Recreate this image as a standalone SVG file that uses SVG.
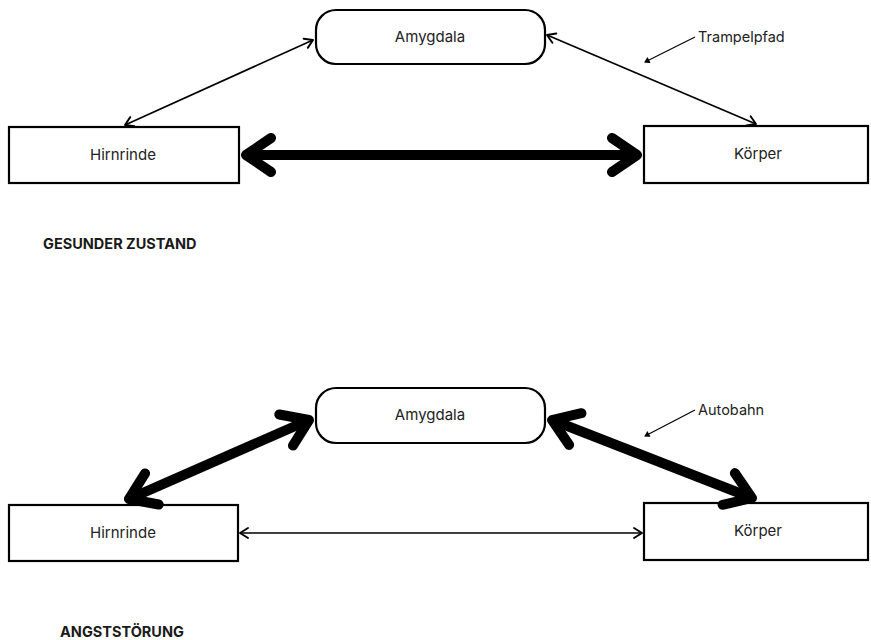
<svg xmlns="http://www.w3.org/2000/svg" width="871" height="640" viewBox="0 0 871 640">
<style>
  .box { fill: #ffffff; stroke: #000000; stroke-width: 2.2; }
  .lbl { font-family: Inter, "Liberation Sans", sans-serif; font-size: 15px; fill: #222222; text-anchor: middle; }
  .note { font-family: Inter, "Liberation Sans", sans-serif; font-size: 14.5px; fill: #222222; }
  .title { font-family: Inter, "Liberation Sans", sans-serif; font-size: 14.5px; font-weight: bold; fill: #1a1a1a; }
  .thin { stroke: #000; stroke-width: 1.7; fill: none; marker-start: url(#thinHead); marker-end: url(#thinHead); }
  .thick { stroke: #000; stroke-width: 10; fill: none; marker-start: url(#thickHead); marker-end: url(#thickHead); }
  .lead { stroke: #000; stroke-width: 1.2; fill: none; marker-end: url(#leadHead); }
</style>
<defs>
  <marker id="thinHead" markerUnits="userSpaceOnUse" viewBox="-12 -8 14 16" refX="0" refY="0" markerWidth="14" markerHeight="16" orient="auto-start-reverse">
    <path d="M -8 -5 L 0 0 L -8 5" fill="none" stroke="#000" stroke-width="1.9" stroke-linecap="round" stroke-linejoin="round"/>
  </marker>
  <marker id="thickHead" markerUnits="userSpaceOnUse" viewBox="-38 -28 44 56" refX="0" refY="0" markerWidth="44" markerHeight="56" orient="auto-start-reverse">
    <path d="M -25 -17 L 0 0 L -25 17" fill="none" stroke="#000" stroke-width="10" stroke-linecap="round" stroke-linejoin="round"/>
  </marker>
  <marker id="leadHead" markerUnits="userSpaceOnUse" viewBox="-6 -4 8 8" refX="0" refY="0" markerWidth="8" markerHeight="8" orient="auto">
    <path d="M -4 -2.5 L 0 0 L -4 2.5 Z" fill="#000" stroke="#000" stroke-width="1"/>
  </marker>
</defs>

<!-- Top: healthy state -->
<g id="amygdala-top">
  <rect class="box" x="316" y="10" width="229" height="54" rx="20" ry="20"/>
  <text class="lbl" x="430" y="42">Amygdala</text>
</g>
<g id="hirnrinde-top">
  <rect class="box" x="9" y="127" width="230" height="56"/>
  <text class="lbl" x="123" y="160">Hirnrinde</text>
</g>
<g id="koerper-top">
  <rect class="box" x="644" y="126" width="224" height="57"/>
  <text class="lbl" x="758" y="159">Körper</text>
</g>
<g id="label-gesund">
  <text class="title" x="43" y="249">GESUNDER ZUSTAND</text>
</g>
<g id="note-trampelpfad">
  <text class="note" x="698" y="42">Trampelpfad</text>
</g>

<!-- Bottom: anxiety disorder -->
<g id="amygdala-bottom">
  <rect class="box" x="316" y="388" width="229" height="55" rx="20" ry="20"/>
  <text class="lbl" x="430" y="420">Amygdala</text>
</g>
<g id="hirnrinde-bottom">
  <rect class="box" x="9" y="505" width="229" height="56"/>
  <text class="lbl" x="123" y="538">Hirnrinde</text>
</g>
<g id="koerper-bottom">
  <rect class="box" x="644" y="503" width="224" height="57"/>
  <text class="lbl" x="758" y="536">Körper</text>
</g>
<g id="label-angst">
  <text class="title" x="60" y="637">ANGSTSTÖRUNG</text>
</g>
<g id="note-autobahn">
  <text class="note" x="698" y="415">Autobahn</text>
</g>

<g id="connectors">
  <!-- top -->
  <line class="thin" x1="125" y1="125" x2="313" y2="40"/>
  <line class="thin" x1="547" y1="35" x2="756" y2="124"/>
  <line class="thick" x1="246" y1="155" x2="637" y2="155"/>
  <line class="lead" x1="695" y1="37" x2="645" y2="62"/>
  <!-- bottom -->
  <line class="thick" x1="129" y1="499" x2="309" y2="420"/>
  <line class="thick" x1="552" y1="420" x2="752" y2="498"/>
  <line class="thin" x1="240" y1="533" x2="642" y2="533"/>
  <line class="lead" x1="695" y1="410" x2="645" y2="436"/>
</g>
</svg>
